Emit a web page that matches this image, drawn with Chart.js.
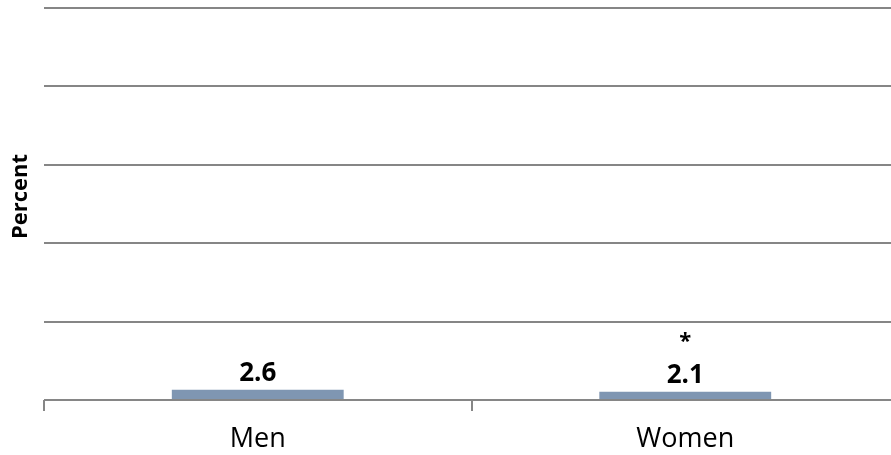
<!DOCTYPE html>
<html>
<head>
<meta charset="utf-8">
<script src="https://cdn.jsdelivr.net/npm/chart.js@4/dist/chart.umd.min.js"></script>
<style>
  html, body { margin: 0; padding: 0; background: #fff; overflow: hidden; }
  #wrap { position: relative; width: 900px; height: 455px; }
</style>
</head>
<body>
<div id="wrap"><canvas id="c"></canvas></div>
<script>
const categories = ["Men", "Women"];
const percentValues = [2.6, 2.1];
const valueLabels = ["2.6", "2.1"];
const significanceMarks = ["", "*"];
const yTicks = [0, 20, 40, 60, 80, 100];

const FONT = "'Open Sans', sans-serif";
const GRID = "#868686";

const labelPlugin = {
  id: "labels",
  afterDatasetsDraw(chart) {
    const ctx = chart.ctx;
    const meta = chart.getDatasetMeta(0);
    ctx.save();
    ctx.fillStyle = "#000";
    ctx.textAlign = "center";
    ctx.textBaseline = "alphabetic";
    meta.data.forEach((bar, i) => {
      ctx.font = "bold 26px " + FONT;
      ctx.fillText(valueLabels[i], bar.x, bar.y - 9);
      if (significanceMarks[i]) {
        ctx.font = "bold 22px " + FONT;
        ctx.fillText(significanceMarks[i], bar.x, bar.y - 44);
      }
    });
    // y-axis title
    ctx.translate(27, 196.5);
    ctx.rotate(-Math.PI / 2);
    ctx.font = "bold 22px " + FONT;
    ctx.textBaseline = "alphabetic";
    ctx.fillText("Percent", 0, 0);
    ctx.restore();
  }
};

new Chart(document.getElementById("c"), {
  type: "bar",
  data: {
    labels: categories,
    datasets: [{
      data: percentValues,
      backgroundColor: "#7F96B2",
      borderWidth: 0,
      categoryPercentage: 1,
      barPercentage: 0.402
    }]
  },
  options: {
    responsive: true,
    maintainAspectRatio: false,
    animation: false,
    layout: { padding: { top: 8, right: 1, left: 0, bottom: 0 } },
    plugins: { legend: { display: false }, tooltip: { enabled: false } },
    scales: {
      x: {
        grid: { offset: true, drawOnChartArea: false, drawTicks: true, tickLength: 11, color: GRID, lineWidth: 2 },
        border: { display: false },
        ticks: { font: { family: FONT, size: 27 }, color: "#000", padding: 12 },
        afterFit(scale) { scale.height = 55; }
      },
      y: {
        min: 0, max: 100,
        afterBuildTicks(scale) { scale.ticks = yTicks.map(v => ({ value: v })); },
        grid: { color: GRID, lineWidth: 2, drawTicks: false },
        border: { display: false },
        ticks: { display: false },
        afterFit(scale) { scale.width = 44; }
      }
    }
  },
  plugins: [labelPlugin]
});
</script>
</body>
</html>
